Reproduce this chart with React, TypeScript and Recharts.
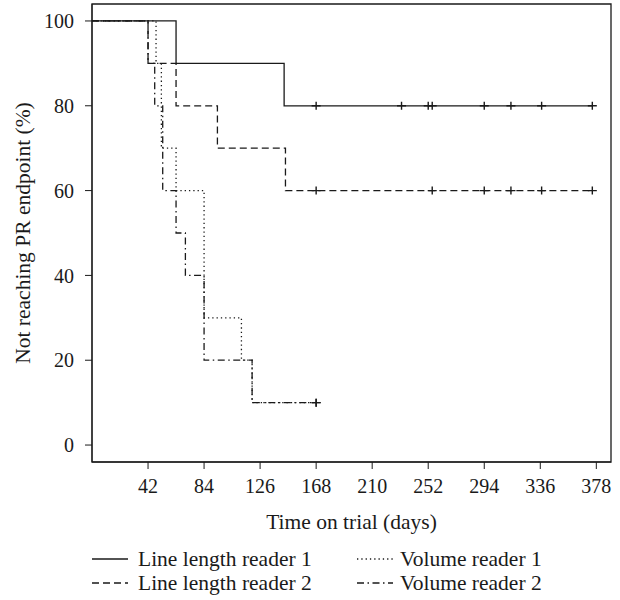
import React from 'react';
import { LineChart, Line, XAxis, YAxis, ReferenceArea } from 'recharts';

const ink = '#1a1a1a';
const serif = '"Liberation Serif", "Times New Roman", serif';

// step points: day at which the curve drops, and the % left after the drop
const lineLength1Steps = [
  { day: 0, pct: 100 },
  { day: 63, pct: 90 },
  { day: 144, pct: 80 },
];
const lineLength1Censored = [168, 232, 252, 255, 294, 314, 337, 375];

const lineLength2Steps = [
  { day: 0, pct: 100 },
  { day: 42, pct: 90 },
  { day: 63, pct: 80 },
  { day: 94, pct: 70 },
  { day: 145, pct: 60 },
];
const lineLength2Censored = [168, 255, 294, 314, 337, 375];

const volume1Steps = [
  { day: 0, pct: 100 },
  { day: 48, pct: 90 },
  { day: 52, pct: 70 },
  { day: 63, pct: 60 },
  { day: 84, pct: 30 },
  { day: 112, pct: 20 },
  { day: 120, pct: 10 },
];
const volume1Censored = [168];

const volume2Steps = [
  { day: 0, pct: 100 },
  { day: 42, pct: 90 },
  { day: 47, pct: 80 },
  { day: 53, pct: 60 },
  { day: 63, pct: 50 },
  { day: 70, pct: 40 },
  { day: 84, pct: 20 },
  { day: 120, pct: 10 },
];
const volume2Censored = [168];

const xTicks = [42, 84, 126, 168, 210, 252, 294, 336, 378];
const yTicks = [0, 20, 40, 60, 80, 100];

type Pt = { day: number; pct: number; censored: boolean };

function buildCurve(steps: { day: number; pct: number }[], censored: number[]): Pt[] {
  const pts: Pt[] = steps.map((s) => ({ ...s, censored: false }));
  censored.forEach((d) => {
    const prev = steps.filter((s) => s.day <= d);
    pts.push({ day: d, pct: prev[prev.length - 1].pct, censored: true });
  });
  return pts.sort((a, b) => a.day - b.day);
}

const series = [
  { name: 'Line length reader 1', data: buildCurve(lineLength1Steps, lineLength1Censored), dash: undefined },
  { name: 'Line length reader 2', data: buildCurve(lineLength2Steps, lineLength2Censored), dash: '7 4' },
  { name: 'Volume reader 1', data: buildCurve(volume1Steps, volume1Censored), dash: '1.3 3' },
  { name: 'Volume reader 2', data: buildCurve(volume2Steps, volume2Censored), dash: '7 3.5 1.5 3.5' },
];

const CensorMark = (props: any) => {
  const { cx, cy, payload, index } = props;
  if (!payload || !payload.censored) return <g key={`c-${index}`} />;
  return (
    <path
      key={`c-${index}`}
      d={`M${cx - 4.5},${cy}H${cx + 4.5}M${cx},${cy - 4}V${cy + 4}`}
      stroke={ink}
      strokeWidth={1.4}
      fill="none"
    />
  );
};

function LegendRow({ x, y, gap, label, dash }: { x: number; y: number; gap: number; label: string; dash?: string }) {
  return (
    <g>
      <line x1={x} x2={x + 36} y1={y} y2={y} stroke={ink} strokeWidth={1.3} strokeDasharray={dash} />
      <text x={x + 36 + gap} y={y + 7} fontSize={21.5} fontFamily={serif} fill={ink}>
        {label}
      </text>
    </g>
  );
}

export default function App() {
  return (
    <div style={{ position: 'absolute', left: 0, top: 0, width: 620, height: 600, background: '#fff' }}>
      <LineChart width={620} height={540} margin={{ top: 4, right: 9, bottom: 0, left: 0 }}>
        <XAxis
          dataKey="day"
          type="number"
          domain={[0, 389]}
          ticks={xTicks}
          allowDataOverflow
          height={78}
          tickSize={7}
          tickMargin={10}
          stroke={ink}
          tick={{ fill: ink, fontSize: 20, fontFamily: serif }}
          label={{
            value: 'Time on trial (days)',
            position: 'insideBottom',
            offset: 11,
            fill: ink,
            fontSize: 21.5,
            fontFamily: serif,
          }}
        />
        <YAxis
          type="number"
          domain={[-4, 104]}
          ticks={yTicks}
          allowDataOverflow
          width={92}
          tickSize={7}
          tickMargin={11}
          stroke={ink}
          tick={{ fill: ink, fontSize: 20, fontFamily: serif }}
          label={{
            value: 'Not reaching PR endpoint (%)',
            angle: -90,
            position: 'insideLeft',
            offset: 22,
            fill: ink,
            fontSize: 21.5,
            fontFamily: serif,
            style: { textAnchor: 'middle' },
          }}
        />
        <ReferenceArea x1={0} x2={389} y1={-4} y2={104} stroke={ink} strokeWidth={1.3} fill="none" ifOverflow="visible" />
        {series.map((s) => (
          <Line
            key={s.name}
            data={s.data}
            dataKey="pct"
            type="stepAfter"
            stroke={ink}
            strokeWidth={1.3}
            strokeDasharray={s.dash}
            dot={CensorMark}
            activeDot={false}
            isAnimationActive={false}
          />
        ))}
      </LineChart>
      <svg width={620} height={60} style={{ position: 'absolute', left: 0, top: 540 }}>
        <LegendRow x={92} y={19} gap={10} label={series[0].name} dash={series[0].dash} />
        <LegendRow x={92} y={43} gap={10} label={series[1].name} dash={series[1].dash} />
        <LegendRow x={357} y={19} gap={7} label={series[2].name} dash={series[2].dash} />
        <LegendRow x={357} y={43} gap={7} label={series[3].name} dash={series[3].dash} />
      </svg>
    </div>
  );
}
